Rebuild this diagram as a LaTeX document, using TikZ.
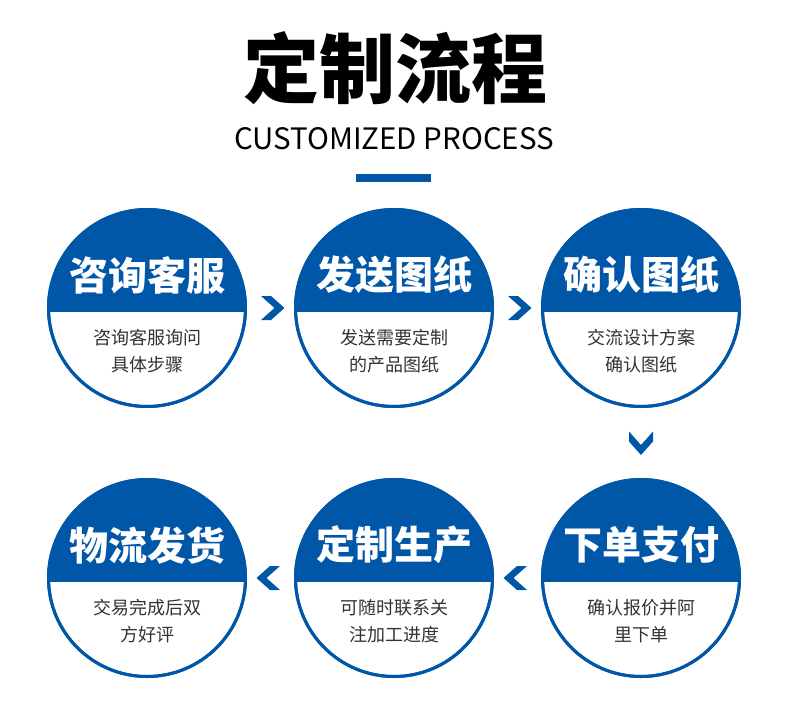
\documentclass[tikz,border=0pt]{standalone}
\usepackage{fontspec}
\setmainfont{Noto Sans CJK SC}
\usetikzlibrary{calc}
\definecolor{brand}{RGB}{0,87,168}
\definecolor{subgray}{RGB}{51,51,51}
\begin{document}
\begin{tikzpicture}[x=1pt,y=-1pt,
  stepcircle/.style={circle, minimum size=197pt, inner sep=0pt, draw=brand, line width=3pt, fill=white},
  head/.style={text=white, font=\fontsize{39}{39}\selectfont\bfseries, inner sep=0pt},
  sub/.style={text=subgray, font=\fontsize{18}{27}\selectfont, align=center, inner sep=0pt},
  chev/.pic={\fill[brand] (-11.5,-12) -- (-1.5,-12) -- (12,0) -- (-1.5,12) -- (-11.5,12) -- (2,0) -- cycle;}]
\useasboundingbox (0,0) rectangle (790,716);
\fill[white] (0,0) rectangle (790,716);
\node[font=\fontsize{76}{76}\selectfont\bfseries, inner sep=0pt] (title) at (395,68) {定制流程};
\node[font=\fontsize{29.5}{29.5}\selectfont, inner sep=0pt] (subtitle) at (394,139) {CUSTOMIZED PROCESS};
\fill[brand] (356,174) rectangle (431,182);
\foreach \n/\cx/\cy/\h/\la/\lb in {
  c1/147/308/咨询客服/咨询客服询问/具体步骤,
  c2/394/308/发送图纸/发送需要定制/的产品图纸,
  c3/641/308/确认图纸/交流设计方案/确认图纸,
  c4/641/578/下单支付/确认报价并阿/里下单,
  c5/394/578/定制生产/可随时联系关/注加工进度,
  c6/147/578/物流发货/交易完成后双/方好评}{
  \node[stepcircle] (\n) at (\cx,\cy) {};
  \begin{scope}
    \clip (\n.center) circle[radius=98.5pt];
    \fill[brand] ($(\n.center)+(-100,-100)$) rectangle ($(\n.center)+(100,4)$);
  \end{scope}
  \draw[brand, line width=3pt] (\n.center) circle[radius=98.5pt];
  \node[head] (\n h) at ($(\n.center)+(0,-33)$) {\h};
  \node[sub] (\n s) at ($(\n.center)+(0,43)$) {\la\\\lb};
}
\coordinate (a12) at ($(c1)!0.5!(c2)+(2,0)$);
\coordinate (a23) at ($(c2)!0.5!(c3)+(2,0)$);
\coordinate (a34) at ($(c3)!0.5!(c4)+(0,0)$);
\coordinate (a45) at ($(c4)!0.5!(c5)+(-2,0)$);
\coordinate (a56) at ($(c5)!0.5!(c6)+(-2,0)$);
\pic at (a12) {chev};
\pic at (a23) {chev};
\pic[rotate=-90] at (a34) {chev};
\pic[rotate=180] at (a45) {chev};
\pic[rotate=180] at (a56) {chev};
\end{tikzpicture}
\end{document}
